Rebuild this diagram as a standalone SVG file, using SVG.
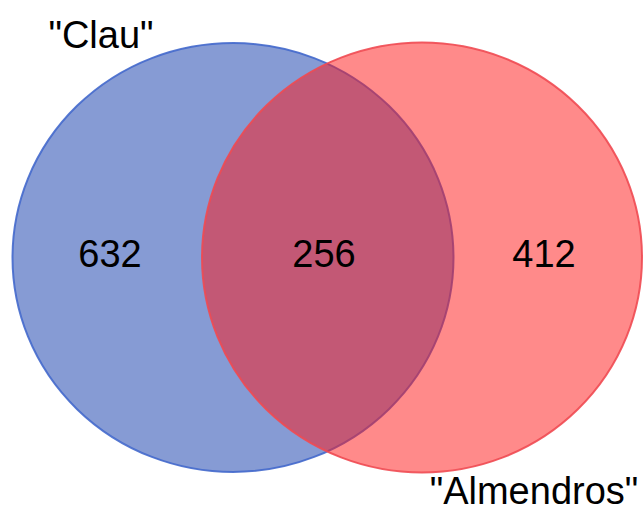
<svg xmlns="http://www.w3.org/2000/svg" width="643" height="508" viewBox="0 0 643 508">
<style>
text{font-family:"Liberation Sans",Arial,sans-serif;font-size:38px;fill:#000;text-anchor:middle}
.set{stroke-width:2}
</style>
<rect width="643" height="508" fill="#fff"/>
<g id="clau">
<ellipse class="set" cx="233" cy="257.5" rx="220.5" ry="214.5" fill="rgb(13,55,169)" fill-opacity="0.5" stroke="#4469cc" stroke-opacity="0.9"/>
<text x="101" y="48">"Clau"</text>
</g>
<g id="almendros">
<ellipse class="set" cx="422" cy="257.5" rx="220" ry="215" fill="rgb(255,21,21)" fill-opacity="0.5" stroke="#f04a52" stroke-opacity="0.9"/>
<text x="534" y="504">"Almendros"</text>
</g>
<g id="counts">
<text x="110" y="267">632</text>
<text x="324" y="267">256</text>
<text x="544" y="267">412</text>
</g>
</svg>
